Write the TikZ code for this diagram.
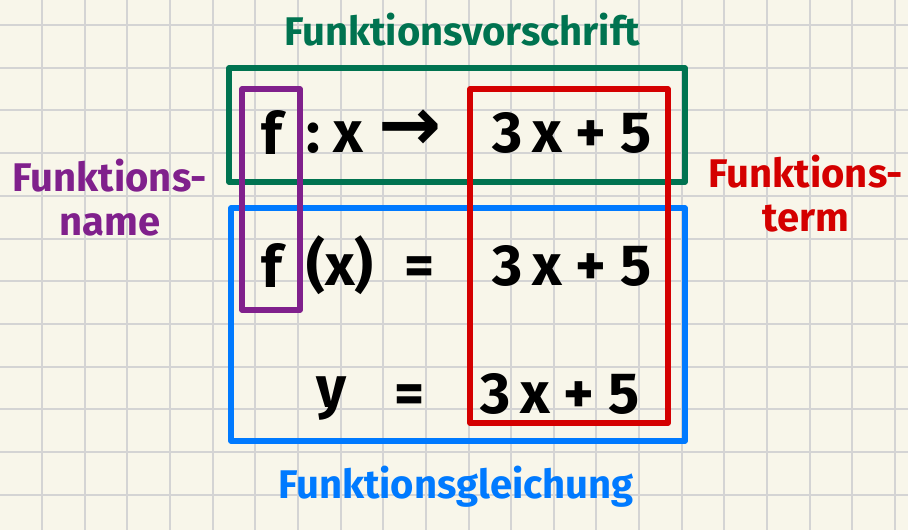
\documentclass[tikz,border=0pt]{standalone}
\usepackage{fontspec}
\setmainfont{Fira Sans}
\newfontfamily\arrowfont{DejaVu Sans}
\definecolor{paper}{HTML}{F8F6EA}
\definecolor{gridgray}{HTML}{D4D4D4}
\definecolor{vgreen}{RGB}{0,115,80}
\definecolor{vpurple}{RGB}{128,32,140}
\definecolor{vred}{RGB}{212,0,0}
\definecolor{vblue}{RGB}{0,122,255}

\begin{document}
\begin{tikzpicture}[x=1pt, y=-1pt, line join=round,
  gridline/.style={gridgray, line width=2pt},
  boxline/.style={line width=5.5pt},
  hand/.style={font=\fontsize{58}{64}\selectfont\bfseries, anchor=base, inner sep=0pt},
  caption/.style={font=\fontsize{40}{44}\selectfont\bfseries, align=center, inner sep=0pt}]
  \useasboundingbox (0,0) rectangle (908,530);
  \fill[paper] (0,0) rectangle (908,530);
  \foreach \i in {0,...,20}
    \draw[gridline] ({42+42.65*\i},0) -- ({42+42.65*\i},530);
  \foreach \j in {0,...,12}
    \draw[gridline] (0,{25+42.7*\j}) -- (908,{25+42.7*\j});

  \coordinate (G1) at (229,68);  \coordinate (G2) at (685,182);
  \coordinate (B1) at (231,208); \coordinate (B2) at (685,441);
  \coordinate (P1) at (242,89);  \coordinate (P2) at (300,310);
  \coordinate (R1) at (470,89);  \coordinate (R2) at (668,423);
  \draw[boxline, vgreen]  (G1) rectangle (G2);
  \draw[boxline, vblue]   (B1) rectangle (B2);
  \draw[boxline, vpurple] (P1) rectangle (P2);
  \draw[boxline, vred]    (R1) rectangle (R2);

  \node[hand] (f1)    at (272,154) {f};
  \node[hand] (colon) at (313,152) {:};
  \node[hand] (x1)    at (348,152) {x};
  \node[hand, scale=1.3] (arrow) at (410,150) {\arrowfont →};
  \node[hand] (term1) at (572,152) {3\,x + 5};

  \node[hand] (f2)    at (272,287) {f};
  \node[hand] (arg)   at (340,285) {(x)};
  \node[hand] (eq2)   at (420,285) {=};
  \node[hand] (term2) at (572,285) {3\,x + 5};

  \node[hand] (y3)    at (332,407) {y};
  \node[hand] (eq3)   at (410,413) {=};
  \node[hand] (term3) at (560,413) {3\,x + 5};

  \node[caption, vgreen]  (vorschrift) at (462,30)  {Funktionsvorschrift};
  \node[caption, vpurple] (name)       at (110,198) {Funktions-\\name};
  \node[caption, vred]    (term)       at (806,194) {Funktions-\\term};
  \node[caption, vblue]   (gleichung)  at (456,487) {Funktionsgleichung};
\end{tikzpicture}
\end{document}
